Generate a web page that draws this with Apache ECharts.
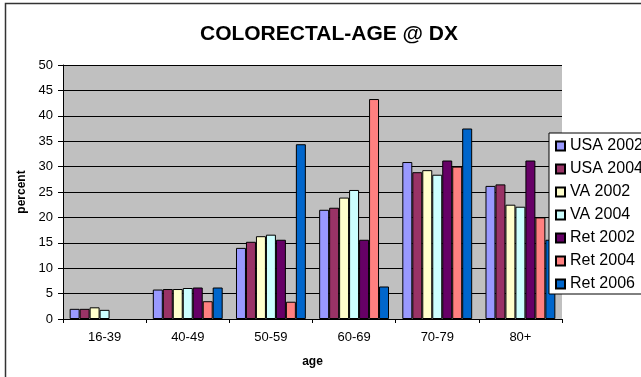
<!DOCTYPE html>
<html>
<head>
<meta charset="utf-8">
<script src="https://cdn.jsdelivr.net/npm/echarts@6/dist/echarts.min.js"></script>
<style>
html,body{margin:0;padding:0;background:#fff;}
#chart{width:641px;height:377px;}
</style>
</head>
<body>
<div id="chart"></div>
<script>
var categories = ['16-39', '40-49', '50-59', '60-69', '70-79', '80+'];
var seriesNames = ['USA 2002', 'USA 2004', 'VA 2002', 'VA 2004', 'Ret 2002', 'Ret 2004', 'Ret 2006'];
var usa2002 = [2.0, 5.8, 14.0, 21.5, 30.9, 26.2];
var usa2004 = [2.0, 5.9, 15.2, 21.9, 28.9, 26.5];
var va2002  = [2.3, 5.9, 16.3, 23.9, 29.3, 22.5];
var va2004  = [1.8, 6.1, 16.6, 25.4, 28.4, 22.1];
var ret2002 = [null, 6.2, 15.6, 15.6, 31.2, 31.2];
var ret2004 = [null, 3.5, 3.4, 43.3, 30.0, 20.0];
var ret2006 = [null, 6.2, 34.4, 6.4, 37.5, 15.6];
var colors = ['#9999FF', '#993366', '#FFFFCC', '#CCFFFF', '#660066', '#FF8080', '#0066CC'];
var yTicks = { min: 0, max: 50, interval: 5 };

var allData = [usa2002, usa2004, va2002, va2004, ret2002, ret2004, ret2006];
var FONT = '"Liberation Sans", Arial, sans-serif';

var chart = echarts.init(document.getElementById('chart'), null, { renderer: 'canvas' });
var series = seriesNames.map(function (n, i) {
  return {
    name: n,
    type: 'bar',
    data: allData[i],
    barGap: '0%',
    barCategoryGap: '16%',
    itemStyle: { color: colors[i], borderColor: '#000', borderWidth: 1 },
    emphasis: { disabled: true },
    animation: false
  };
});

chart.setOption({
  animation: false,
  title: {
    text: 'COLORECTAL-AGE @ DX',
    left: 324, top: 19, textAlign: 'center',
    textStyle: { fontFamily: FONT, fontSize: 21, fontWeight: 'bold', color: '#000' }
  },
  graphic: [{
    type: 'rect', left: 3, top: 1, z: -10, silent: true,
    shape: { width: 700, height: 420 },
    style: { fill: 'none', stroke: '#333', lineWidth: 1.5 }
  }],
  legend: {
    orient: 'vertical',
    left: 549, top: 133,
    backgroundColor: '#fff',
    borderColor: '#000', borderWidth: 1,
    padding: [5, 4, 2, 6],
    itemWidth: 9, itemHeight: 9, itemGap: 7,
    icon: 'rect',
    textStyle: { fontFamily: FONT, fontSize: 16, color: '#000', lineHeight: 16 },
    data: seriesNames
  },
  grid: {
    left: 63, top: 65, right: 79, bottom: 58,
    show: true, backgroundColor: '#C0C0C0', borderWidth: 0
  },
  xAxis: {
    type: 'category',
    data: categories,
    name: 'age', nameLocation: 'middle', nameGap: 37,
    nameTextStyle: { fontFamily: FONT, fontSize: 12, fontWeight: 'bold', color: '#000' },
    axisLine: { lineStyle: { color: '#000', width: 1 } },
    axisTick: { show: true, length: 4, lineStyle: { color: '#000' } },
    axisLabel: { fontFamily: FONT, fontSize: 13, color: '#000', margin: 12 }
  },
  yAxis: {
    type: 'value',
    min: yTicks.min, max: yTicks.max, interval: yTicks.interval,
    name: 'percent', nameLocation: 'middle', nameGap: 32, nameRotate: 90,
    nameTextStyle: { fontFamily: FONT, fontSize: 12, fontWeight: 'bold', color: '#000' },
    axisLine: { show: true, lineStyle: { color: '#000', width: 1 } },
    axisTick: { show: true, length: 5, lineStyle: { color: '#000' } },
    axisLabel: { fontFamily: FONT, fontSize: 13, color: '#000', margin: 10 },
    splitLine: { show: true, lineStyle: { color: '#000', width: 1 } }
  },
  series: series
});
</script>
</body>
</html>
